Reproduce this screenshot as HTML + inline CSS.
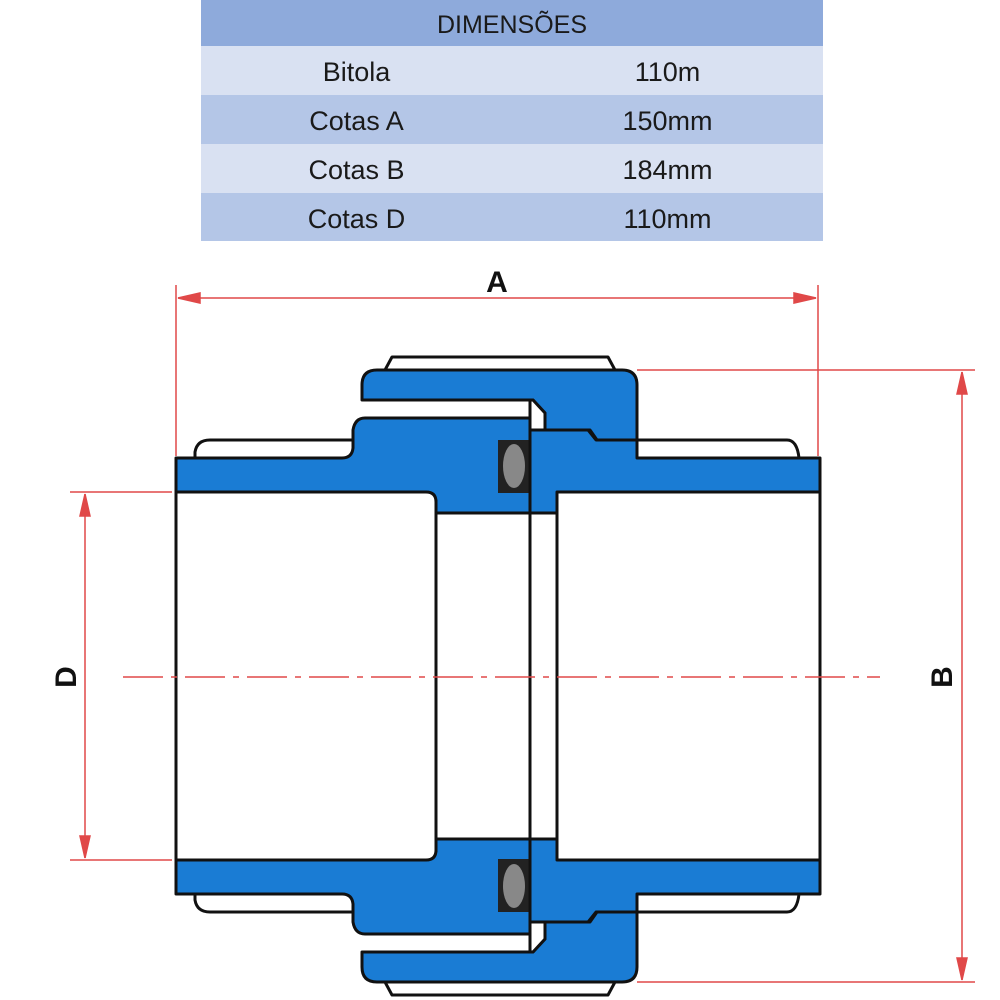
<!DOCTYPE html>
<html><head><style>
body{margin:0;background:#fff;width:1000px;height:1000px;overflow:hidden;font-family:"Liberation Sans",sans-serif}
table{position:absolute;left:201px;top:0;width:622px;border-collapse:collapse;font-family:"Liberation Sans",sans-serif;font-size:27px;color:#1a1a1a}
td{text-align:center;padding:4px 0 0 0}
</style></head><body>
<table>
<tr style="background:#8eaadb;height:46px"><td colspan="2" style="font-size:25px">DIMENSÕES</td></tr>
<tr style="background:#d9e1f2;height:49px"><td style="width:50%">Bitola</td><td>110m</td></tr>
<tr style="background:#b4c6e7;height:49px"><td>Cotas A</td><td>150mm</td></tr>
<tr style="background:#d9e1f2;height:49px"><td>Cotas B</td><td>184mm</td></tr>
<tr style="background:#b4c6e7;height:48px"><td>Cotas D</td><td>110mm</td></tr>
</table>
<svg width="1000" height="1000" style="position:absolute;left:0;top:0">
<defs>
<g id="half" stroke="#111" stroke-width="3" stroke-linejoin="round">
<path d="M195,458 L195,452 Q197,440 210,440 L353,440" fill="#fff"/>
<path d="M385,370 L392,357 L608,357 L615,370" fill="#fff"/>
<path d="M637,440 L787,440 Q797,440 799,458" fill="#fff"/>
<path d="M362,400 L362,385 Q362,370 377,370 L622,370 Q637,370 637,385 L637,440 L597,440 L590,430 L545,430 L545,413 L533,400 Z" fill="#1a7cd4"/>
<path d="M530,400 L533,400 L545,413 L545,430 L530,430 Z" fill="#fff"/>
<path d="M176,458 L342,458 Q352,458 353,448 L353,430 Q355,418 365,418 L530,418 L530,513 L436,513 L436,502 Q436,492 426,492 L176,492 Z" fill="#1a7cd4"/>
<path d="M530,430 L588,430 L596,440 L637,440 L637,458 L820,458 L820,492 L557,492 L557,513 L530,513 Z" fill="#1a7cd4"/>
<rect x="498" y="440" width="32" height="53" fill="#222" stroke="none"/>
<ellipse cx="514" cy="466" rx="11" ry="22" fill="#888" stroke="none"/>
</g>
</defs>
<use href="#half"/>
<use href="#half" transform="translate(0,1352) scale(1,-1)"/>
<g stroke="#111" stroke-width="3">
<line x1="176" y1="458" x2="176" y2="894"/>
<line x1="820" y1="458" x2="820" y2="894"/>
<line x1="436" y1="500" x2="436" y2="852"/>
<line x1="530" y1="418" x2="530" y2="934"/>
<line x1="557" y1="492" x2="557" y2="860"/>
</g>
<g stroke="#e04848" stroke-width="1.5" fill="#e04848">
<line x1="176" y1="285" x2="176" y2="456"/>
<line x1="818" y1="285" x2="818" y2="456"/>
<line x1="178" y1="298" x2="816" y2="298"/>
<path d="M178,298 L200,293 L200,303 Z"/><path d="M816,298 L794,293 L794,303 Z"/>
<line x1="637" y1="370" x2="975" y2="370"/>
<line x1="637" y1="982" x2="975" y2="982"/>
<line x1="962" y1="372" x2="962" y2="980"/>
<path d="M962,372 L957,394 L967,394 Z"/><path d="M962,980 L957,958 L967,958 Z"/>
<line x1="70" y1="492" x2="172" y2="492"/>
<line x1="70" y1="860" x2="172" y2="860"/>
<line x1="85" y1="494" x2="85" y2="858"/>
<path d="M85,494 L80,516 L90,516 Z"/><path d="M85,858 L80,836 L90,836 Z"/>
<line x1="123" y1="677" x2="880" y2="677" stroke-dasharray="40,8,6,8" fill="none"/>
</g>
<g font-family="Liberation Sans" font-weight="bold" font-size="30" fill="#111">
<text x="497" y="292" text-anchor="middle">A</text>
<text transform="translate(952,677) rotate(-90)" text-anchor="middle">B</text>
<text transform="translate(76,677) rotate(-90)" text-anchor="middle">D</text>
</g>
</svg>
</body></html>
